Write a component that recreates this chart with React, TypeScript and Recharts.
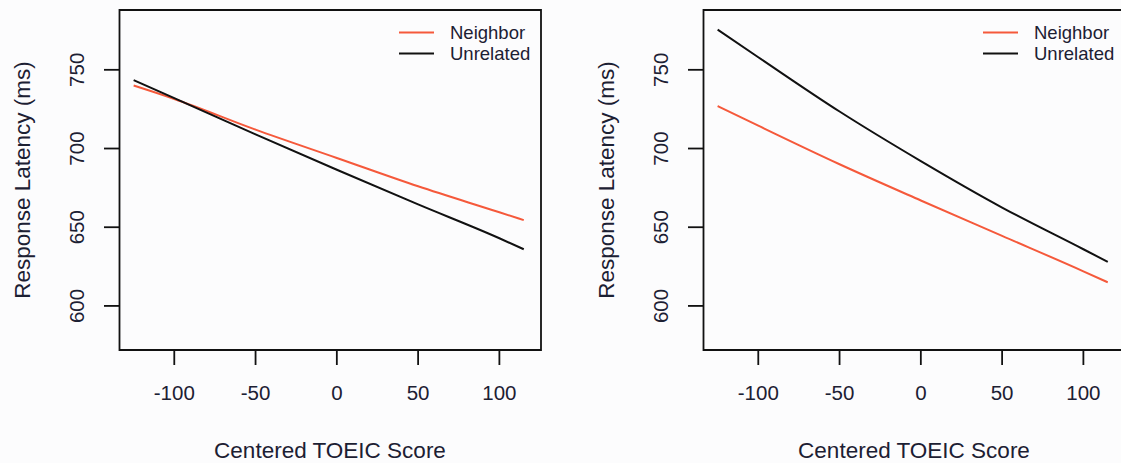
import React from 'react'
import { LineChart, Line, XAxis, YAxis, ReferenceArea, Legend, Label } from 'recharts'

const toeic = [-125, -100, -50, 0, 50, 100, 115]

// left panel
const leftNeighbor = [740, 731.5, 712, 694, 676, 659.5, 654.5]
const leftUnrelated = [743.5, 732, 709, 686.5, 664.5, 643, 636]

// right panel
const rightNeighbor = [727, 714.5, 690, 667, 644.5, 622, 615]
const rightUnrelated = [775.5, 758, 723.5, 692, 662.5, 636, 628]

const xTicks = [-100, -50, 0, 50, 100]
const yTicks = [600, 650, 700, 750]
const seriesNames = ['Neighbor', 'Unrelated']
const seriesColors = ['#f5593b', '#111111']

const X_DOMAIN: [number, number] = [-133.7, 125.6]
const Y_DOMAIN: [number, number] = [572, 788]
const INK = '#1c2033'
const FONT = '"Liberation Sans", Arial, sans-serif'

const XTick = (props: any) => (
  <text x={props.x} y={392} textAnchor="middle" dominantBaseline="central"
    fontSize={20.5} fill={INK} fontFamily={FONT}>{props.payload.value}</text>
)

const YTick = (props: any) => (
  <text x={77} y={props.y} transform={`rotate(-90 77 ${props.y})`} textAnchor="middle"
    dominantBaseline="central" fontSize={20.5} fill={INK} fontFamily={FONT}>{props.payload.value}</text>
)

const LegendBox = (props: any) => (
  <div style={{ fontFamily: FONT, fontSize: 18.5, color: INK, lineHeight: '21px' }}>
    {(props.payload || []).map((item: any) => (
      <div key={item.value} style={{ display: 'flex', alignItems: 'center', height: 21 }}>
        <svg width={35} height={21}>
          <line x1={0} x2={35} y1={10.5} y2={10.5} stroke={item.color} strokeWidth={2} />
        </svg>
        <span style={{ marginLeft: 16 }}>{item.value}</span>
      </div>
    ))}
  </div>
)

const Panel = ({ neighbor, unrelated, left }: { neighbor: number[], unrelated: number[], left: number }) => {
  const rows = toeic.map((x, i) => ({ x, Neighbor: neighbor[i], Unrelated: unrelated[i] }))
  return (
    <div style={{ position: 'absolute', left, top: 0 }}>
      <LineChart width={560} height={463} data={rows} margin={{ top: 10, right: 19, bottom: 0, left: 0 }}>
        <XAxis dataKey="x" type="number" domain={X_DOMAIN} ticks={xTicks} allowDataOverflow
          axisLine={false} tickSize={15} tickLine={{ stroke: '#111', strokeWidth: 1.8 }}
          tick={XTick} height={113}>
          <Label content={() => (
            <text x={330} y={450} textAnchor="middle" dominantBaseline="central"
              fontSize={22.5} fill={INK} fontFamily={FONT}>Centered TOEIC Score</text>
          )} />
        </XAxis>
        <YAxis type="number" domain={Y_DOMAIN} ticks={yTicks} allowDataOverflow
          axisLine={false} tickSize={15.5} tickLine={{ stroke: '#111', strokeWidth: 1.8 }}
          tick={YTick} width={119.5}>
          <Label content={() => (
            <text x={22} y={180} transform="rotate(-90 22 180)" textAnchor="middle"
              dominantBaseline="central" fontSize={22.5} fill={INK} fontFamily={FONT}>Response Latency (ms)</text>
          )} />
        </YAxis>
        <ReferenceArea x1={X_DOMAIN[0]} x2={X_DOMAIN[1]} y1={Y_DOMAIN[0]} y2={Y_DOMAIN[1]}
          fill="none" fillOpacity={0} stroke="#111" strokeWidth={1.8} />
        <Line type="monotone" dataKey="Neighbor" name={seriesNames[0]} stroke={seriesColors[0]}
          strokeWidth={2} dot={false} isAnimationActive={false} />
        <Line type="monotone" dataKey="Unrelated" name={seriesNames[1]} stroke={seriesColors[1]}
          strokeWidth={2} dot={false} isAnimationActive={false} />
        <Legend layout="vertical" align="center" verticalAlign="middle" content={LegendBox}
          wrapperStyle={{ position: 'absolute', top: 22, left: 399, width: 'auto' }} />
      </LineChart>
    </div>
  )
}

const App = () => {
  return (
    <div style={{ position: 'absolute', left: 0, top: 0, width: 1121, height: 463, overflow: 'hidden', background: '#fcfcfd' }}>
      <Panel neighbor={leftNeighbor} unrelated={leftUnrelated} left={0} />
      <Panel neighbor={rightNeighbor} unrelated={rightUnrelated} left={584} />
    </div>
  )
}

export default App
